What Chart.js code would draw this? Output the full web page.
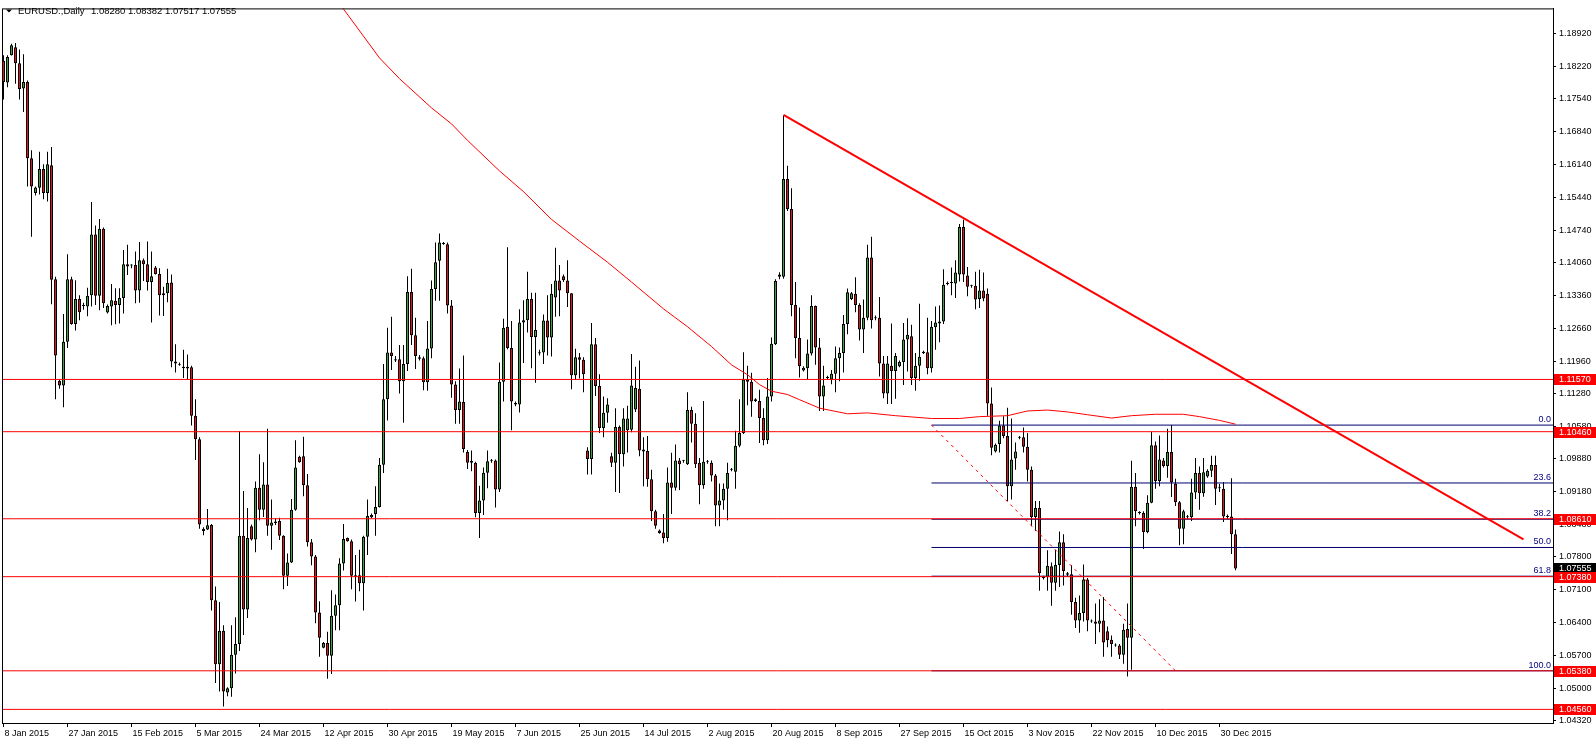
<!DOCTYPE html>
<html lang="es">
<head>
<meta charset="utf-8">
<title>EURUSD Daily</title>
<script src="https://cdn.jsdelivr.net/npm/chart.js@4.4.1/dist/chart.umd.min.js"></script>
<style>
  html, body { margin: 0; padding: 0; background: #fff; }
  #grafico { display: block; }
</style>
</head>
<body>
<canvas id="grafico" width="1596" height="744"></canvas>
<script>
// Velas diarias EURUSD (una barra por día de mercado, domingos incluidos)
const aperturas = [
  1.1834, 1.1788, 1.1846, 1.1863, 1.1829, 1.1775, 1.1789, 1.1627, 1.1553, 1.1564,
  1.1604, 1.1553, 1.1612, 1.1370, 1.1154, 1.1144, 1.1237, 1.1370, 1.1275, 1.1328,
  1.1313, 1.1312, 1.1336, 1.1465, 1.1335, 1.1477, 1.1299, 1.1312, 1.1324, 1.1315,
  1.1330, 1.1402, 1.1400, 1.1400, 1.1346, 1.1410, 1.1402, 1.1364, 1.1395, 1.1381,
  1.1340, 1.1340, 1.1363, 1.1195, 1.1188, 1.1184, 1.1184, 1.1183, 1.1080, 1.1030,
  1.0840, 1.0838, 1.0848, 1.0688, 1.0552, 1.0623, 1.0492, 1.0501, 1.0572, 1.0595,
  1.0825, 1.0668, 1.0845, 1.0817, 1.0927, 1.0880, 1.0934, 1.0846, 1.0852, 1.0856,
  1.0825, 1.0740, 1.0768, 1.0880, 1.0993, 1.0994, 1.0932, 1.0811, 1.0781, 1.0662,
  1.0587, 1.0597, 1.0570, 1.0655, 1.0677, 1.0766, 1.0820, 1.0813, 1.0741, 1.0741,
  1.0724, 1.0823, 1.0869, 1.0871, 1.0886, 1.0976, 1.1115, 1.1214, 1.1197, 1.1200,
  1.1153, 1.1190, 1.1343, 1.1251, 1.1201, 1.1202, 1.1151, 1.1223, 1.1349, 1.1409,
  1.1446, 1.1444, 1.1314, 1.1146, 1.1092, 1.1109, 1.1003, 1.0984, 1.0980, 1.0873,
  1.0900, 1.0959, 1.0984, 1.0985, 1.0923, 1.1152, 1.1269, 1.1224, 1.1107, 1.1104,
  1.1278, 1.1283, 1.1328, 1.1247, 1.1212, 1.1214, 1.1282, 1.1246, 1.1331, 1.1367,
  1.1376, 1.1367, 1.1340, 1.1166, 1.1204, 1.1199, 1.1006, 1.0988, 1.1232, 1.1143,
  1.1054, 1.1086, 1.0994, 1.0980, 1.1056, 1.0998, 1.1049, 1.1050, 1.1093, 1.1137,
  1.1008, 1.1005, 1.0945, 1.0877, 1.0836, 1.0832, 1.0820, 1.0938, 1.0927, 1.0985,
  1.0984, 1.0977, 1.1092, 1.1063, 1.0980, 1.0932, 1.0981, 1.0980, 1.0953, 1.0889,
  1.0900, 1.0925, 1.0965, 1.0961, 1.1016, 1.1043, 1.1157, 1.1152, 1.1115, 1.1111,
  1.1075, 1.1028, 1.1121, 1.1232, 1.1380, 1.1375, 1.1583, 1.1519, 1.1315, 1.1245,
  1.1176, 1.1181, 1.1212, 1.1313, 1.1225, 1.1121, 1.1160, 1.1157, 1.1169, 1.1202,
  1.1213, 1.1275, 1.1328, 1.1339, 1.1315, 1.1263, 1.1288, 1.1416, 1.1289, 1.1288,
  1.1191, 1.1127, 1.1186, 1.1175, 1.1185, 1.1194, 1.1242, 1.1249, 1.1160, 1.1186,
  1.1213, 1.1215, 1.1181, 1.1268, 1.1276, 1.1280, 1.1360, 1.1362, 1.1361, 1.1380,
  1.1481, 1.1378, 1.1355, 1.1356, 1.1328, 1.1346, 1.1339, 1.1106, 1.1004, 1.1020,
  1.1059, 1.1037, 1.0930, 1.0989, 1.1033, 1.1034, 1.1014, 1.0965, 1.0865, 1.0884,
  1.0735, 1.0737, 1.0760, 1.0725, 1.0763, 1.0811, 1.0745, 1.0743, 1.0684, 1.0645,
  1.0661, 1.0732, 1.0644, 1.0643, 1.0638, 1.0645, 1.0622, 1.0604, 1.0592, 1.0592,
  1.0572, 1.0627, 1.0608, 1.0929, 1.0874, 1.0873, 1.0833, 1.0895, 1.1017, 1.0941,
  1.0985, 1.0973, 1.1003, 1.0936, 1.0896, 1.0840, 1.0866, 1.0864, 1.0917, 1.0958,
  1.0915, 1.0951, 1.0963, 1.0975, 1.0926, 1.0925, 1.0866, 1.0866, 1.0828
];
const maximos = [
  1.1846, 1.1846, 1.1870, 1.1872, 1.1858, 1.1848, 1.1792, 1.1644, 1.1567, 1.1641,
  1.1614, 1.1641, 1.1651, 1.1375, 1.1156, 1.1296, 1.1423, 1.1375, 1.1368, 1.1336,
  1.1320, 1.1352, 1.1534, 1.1484, 1.1498, 1.1480, 1.1316, 1.1360, 1.1351, 1.1351,
  1.1432, 1.1443, 1.1402, 1.1429, 1.1449, 1.1414, 1.1450, 1.1429, 1.1398, 1.1393,
  1.1354, 1.1392, 1.1380, 1.1232, 1.1193, 1.1220, 1.1210, 1.1186, 1.1115, 1.1034,
  1.0843, 1.0882, 1.0850, 1.0717, 1.0684, 1.0635, 1.0503, 1.0635, 1.0652, 1.1047,
  1.0920, 1.0884, 1.0849, 1.0940, 1.0998, 1.0981, 1.1052, 1.0902, 1.0862, 1.0863,
  1.0826, 1.0787, 1.0903, 1.1028, 1.0995, 1.1035, 1.0956, 1.0818, 1.0784, 1.0686,
  1.0599, 1.0621, 1.0709, 1.0700, 1.0777, 1.0850, 1.0821, 1.0817, 1.0784, 1.0795,
  1.0825, 1.0902, 1.0872, 1.0930, 1.0990, 1.1190, 1.1267, 1.1290, 1.1207, 1.1230,
  1.1230, 1.1376, 1.1392, 1.1288, 1.1209, 1.1206, 1.1281, 1.1367, 1.1448, 1.1467,
  1.1449, 1.1448, 1.1326, 1.1153, 1.1180, 1.1208, 1.1007, 1.1006, 1.0982, 1.0931,
  1.0970, 1.1006, 1.0988, 1.0987, 1.1193, 1.1286, 1.1438, 1.1281, 1.1110, 1.1306,
  1.1325, 1.1386, 1.1341, 1.1341, 1.1220, 1.1295, 1.1336, 1.1360, 1.1437, 1.1400,
  1.1380, 1.1410, 1.1340, 1.1222, 1.1213, 1.1204, 1.1013, 1.1277, 1.1245, 1.1168,
  1.1121, 1.1117, 1.1001, 1.1096, 1.1059, 1.1096, 1.1101, 1.1211, 1.1184, 1.1197,
  1.1034, 1.1037, 1.0965, 1.0880, 1.0838, 1.0871, 1.0970, 1.1001, 1.1019, 1.0990,
  1.0986, 1.1130, 1.1099, 1.1085, 1.0990, 1.1111, 1.0986, 1.0985, 1.0956, 1.0936,
  1.0936, 1.0980, 1.0969, 1.1048, 1.1115, 1.1215, 1.1186, 1.1171, 1.1117, 1.1135,
  1.1096, 1.1160, 1.1246, 1.1370, 1.1385, 1.1718, 1.1611, 1.1563, 1.1364, 1.1310,
  1.1185, 1.1242, 1.1336, 1.1314, 1.1245, 1.1186, 1.1165, 1.1177, 1.1227, 1.1225,
  1.1294, 1.1350, 1.1343, 1.1374, 1.1319, 1.1327, 1.1443, 1.1460, 1.1293, 1.1332,
  1.1207, 1.1207, 1.1276, 1.1213, 1.1197, 1.1277, 1.1287, 1.1273, 1.1213, 1.1318,
  1.1218, 1.1288, 1.1281, 1.1312, 1.1314, 1.1391, 1.1365, 1.1395, 1.1410, 1.1487,
  1.1497, 1.1396, 1.1358, 1.1386, 1.1390, 1.1384, 1.1350, 1.1140, 1.1021, 1.1069,
  1.1079, 1.1097, 1.1074, 1.1023, 1.1037, 1.1055, 1.1043, 1.0972, 1.0899, 1.0899,
  1.0740, 1.0794, 1.0768, 1.0795, 1.0834, 1.0828, 1.0748, 1.0762, 1.0693, 1.0698,
  1.0764, 1.0735, 1.0647, 1.0681, 1.0690, 1.0695, 1.0632, 1.0613, 1.0596, 1.0595,
  1.0638, 1.0681, 1.0984, 1.0958, 1.0877, 1.0877, 1.0911, 1.1046, 1.1025, 1.1038,
  1.0990, 1.1052, 1.1060, 1.0946, 1.0899, 1.0880, 1.0869, 1.0946, 1.0990, 1.0972,
  1.0990, 1.0966, 1.0995, 1.0995, 1.0935, 1.0939, 1.0870, 1.0947, 1.0838
];
const minimos = [
  1.1752, 1.1778, 1.1845, 1.1785, 1.1752, 1.1725, 1.1567, 1.1460, 1.1548, 1.1550,
  1.1540, 1.1535, 1.1317, 1.1115, 1.1137, 1.1098, 1.1224, 1.1273, 1.1261, 1.1283,
  1.1305, 1.1291, 1.1312, 1.1315, 1.1304, 1.1309, 1.1297, 1.1272, 1.1274, 1.1276,
  1.1297, 1.1379, 1.1393, 1.1319, 1.1320, 1.1366, 1.1346, 1.1278, 1.1380, 1.1293,
  1.1292, 1.1321, 1.1183, 1.1172, 1.1186, 1.1160, 1.1158, 1.1059, 1.0986, 1.0840,
  1.0826, 1.0837, 1.0666, 1.0512, 1.0494, 1.0462, 1.0484, 1.0483, 1.0532, 1.0580,
  1.0614, 1.0650, 1.0815, 1.0790, 1.0858, 1.0865, 1.0825, 1.0795, 1.0848, 1.0816,
  1.0711, 1.0718, 1.0767, 1.0878, 1.0980, 1.0909, 1.0802, 1.0762, 1.0639, 1.0568,
  1.0586, 1.0521, 1.0531, 1.0624, 1.0624, 1.0751, 1.0812, 1.0711, 1.0685, 1.0707,
  1.0666, 1.0784, 1.0862, 1.0825, 1.0885, 1.0958, 1.1070, 1.1177, 1.1194, 1.1127,
  1.1065, 1.1175, 1.1230, 1.1179, 1.1197, 1.1134, 1.1133, 1.1202, 1.1324, 1.1324,
  1.1443, 1.1297, 1.1118, 1.1063, 1.1063, 1.1002, 1.0967, 1.0962, 1.0864, 1.0820,
  1.0869, 1.0926, 1.0980, 1.0885, 1.0918, 1.1110, 1.1221, 1.1049, 1.1100, 1.1087,
  1.1192, 1.1257, 1.1181, 1.1150, 1.1208, 1.1190, 1.1208, 1.1206, 1.1290, 1.1291,
  1.1364, 1.1311, 1.1136, 1.1156, 1.1159, 1.1130, 1.0955, 1.0955, 1.1122, 1.1043,
  1.1034, 1.1065, 1.0971, 1.0918, 1.0916, 1.0972, 1.1002, 1.1045, 1.1088, 1.0994,
  1.0930, 1.0929, 1.0856, 1.0840, 1.0829, 1.0809, 1.0812, 1.0871, 1.0921, 1.0922,
  1.0980, 1.0975, 1.1023, 1.0969, 1.0892, 1.0925, 1.0978, 1.0940, 1.0845, 1.0845,
  1.0880, 1.0858, 1.0962, 1.0925, 1.1013, 1.1041, 1.1102, 1.1078, 1.1109, 1.1022,
  1.1017, 1.1020, 1.1110, 1.1230, 1.1370, 1.1371, 1.1515, 1.1291, 1.1202, 1.1161,
  1.1174, 1.1157, 1.1208, 1.1188, 1.1090, 1.1090, 1.1157, 1.1147, 1.1130, 1.1153,
  1.1172, 1.1253, 1.1326, 1.1300, 1.1240, 1.1213, 1.1283, 1.1265, 1.1283, 1.1163,
  1.1117, 1.1105, 1.1105, 1.1116, 1.1183, 1.1145, 1.1174, 1.1145, 1.1133, 1.1154,
  1.1211, 1.1168, 1.1172, 1.1220, 1.1236, 1.1275, 1.1357, 1.1336, 1.1330, 1.1365,
  1.1364, 1.1334, 1.1352, 1.1306, 1.1309, 1.1323, 1.1080, 1.0996, 1.1002, 1.1002,
  1.1032, 1.0899, 1.0902, 1.0965, 1.1030, 1.1002, 1.0940, 1.0845, 1.0835, 1.0708,
  1.0732, 1.0708, 1.0676, 1.0708, 1.0716, 1.0719, 1.0738, 1.0657, 1.0629, 1.0619,
  1.0643, 1.0622, 1.0640, 1.0595, 1.0620, 1.0568, 1.0588, 1.0568, 1.0589, 1.0563,
  1.0553, 1.0526, 1.0540, 1.0845, 1.0870, 1.0797, 1.0830, 1.0894, 1.0925, 1.0930,
  1.0970, 1.0948, 1.0907, 1.0888, 1.0805, 1.0807, 1.0860, 1.0856, 1.0903, 1.0880,
  1.0908, 1.0948, 1.0950, 1.0890, 1.0918, 1.0854, 1.0860, 1.0786, 1.07517
];
const cierres = [
  1.1789, 1.1842, 1.1867, 1.1829, 1.1774, 1.1789, 1.1627, 1.1567, 1.1565, 1.1604,
  1.1553, 1.1614, 1.1369, 1.1208, 1.1144, 1.1237, 1.1370, 1.1275, 1.1328, 1.1300,
  1.1315, 1.1335, 1.1465, 1.1335, 1.1477, 1.1319, 1.1313, 1.1325, 1.1315, 1.1330,
  1.1402, 1.1397, 1.1399, 1.1346, 1.1410, 1.1402, 1.1364, 1.1376, 1.1381, 1.1336,
  1.1336, 1.1362, 1.1195, 1.1191, 1.1190, 1.1181, 1.1180, 1.1080, 1.1030, 1.0849,
  1.0835, 1.0847, 1.0688, 1.0552, 1.0623, 1.0494, 1.0501, 1.0572, 1.0595, 1.0825,
  1.0668, 1.0820, 1.0817, 1.0927, 1.0880, 1.0934, 1.0846, 1.0853, 1.0855, 1.0825,
  1.0740, 1.0768, 1.0880, 1.0970, 1.0981, 1.0932, 1.0811, 1.0781, 1.0662, 1.0608,
  1.0597, 1.0570, 1.0655, 1.0677, 1.0766, 1.0818, 1.0813, 1.0740, 1.0738, 1.0724,
  1.0823, 1.0867, 1.0864, 1.0886, 1.0976, 1.1115, 1.1214, 1.1207, 1.1200, 1.1153,
  1.1190, 1.1343, 1.1251, 1.1207, 1.1204, 1.1151, 1.1223, 1.1349, 1.1406, 1.1448,
  1.1445, 1.1314, 1.1146, 1.1092, 1.1110, 1.1009, 1.0980, 1.0980, 1.0873, 1.0900,
  1.0959, 1.0983, 1.0985, 1.0923, 1.1152, 1.1267, 1.1224, 1.1110, 1.1104, 1.1278,
  1.1283, 1.1328, 1.1247, 1.1262, 1.1215, 1.1282, 1.1246, 1.1339, 1.1367, 1.1346,
  1.1368, 1.1340, 1.1166, 1.1204, 1.1199, 1.1168, 1.0988, 1.1232, 1.1143, 1.1054,
  1.1086, 1.1104, 1.0980, 1.1056, 1.0998, 1.1074, 1.1074, 1.1144, 1.1139, 1.1006,
  1.1004, 1.0945, 1.0877, 1.0846, 1.0831, 1.0820, 1.0938, 1.0927, 1.0985, 1.0977,
  1.0984, 1.1092, 1.1063, 1.0977, 1.0932, 1.0982, 1.0983, 1.0953, 1.0889, 1.0900,
  1.0925, 1.0958, 1.0966, 1.1016, 1.1043, 1.1157, 1.1152, 1.1110, 1.1111, 1.1075,
  1.1028, 1.1121, 1.1233, 1.1366, 1.1375, 1.1583, 1.1519, 1.1315, 1.1245, 1.1185,
  1.1182, 1.1212, 1.1313, 1.1225, 1.1121, 1.1144, 1.1161, 1.1169, 1.1202, 1.1213,
  1.1275, 1.1342, 1.1340, 1.1315, 1.1263, 1.1288, 1.1416, 1.1283, 1.1287, 1.1191,
  1.1127, 1.1191, 1.1175, 1.1207, 1.1194, 1.1242, 1.1252, 1.1160, 1.1186, 1.1205,
  1.1216, 1.1181, 1.1269, 1.1278, 1.1280, 1.1358, 1.1362, 1.1364, 1.1384, 1.1481,
  1.1380, 1.1354, 1.1356, 1.1327, 1.1346, 1.1329, 1.1106, 1.1012, 1.1018, 1.1059,
  1.1037, 1.0930, 1.0987, 1.1004, 1.1035, 1.1014, 1.0965, 1.0865, 1.0884, 1.0745,
  1.0737, 1.0761, 1.0725, 1.0763, 1.0811, 1.0750, 1.0742, 1.0684, 1.0645, 1.0661,
  1.0732, 1.0645, 1.0643, 1.0638, 1.0645, 1.0598, 1.0603, 1.0595, 1.0593, 1.0572,
  1.0625, 1.0608, 1.0929, 1.0877, 1.0873, 1.0833, 1.0895, 1.1017, 1.0941, 1.0987,
  1.0973, 1.1003, 1.0938, 1.0896, 1.0840, 1.0877, 1.0864, 1.0917, 1.0958, 1.0915,
  1.0960, 1.0963, 1.0975, 1.0925, 1.0926, 1.0866, 1.0865, 1.0828, 1.07555
];

// Eje de fechas: una etiqueta cada 16 barras
const indicesFechas = [0, 16, 32, 48, 64, 80, 96, 112, 128, 144, 160, 176, 192, 208, 224, 240, 256, 272, 288, 304];
const etiquetasFechas = ['8 Jan 2015', '27 Jan 2015', '15 Feb 2015', '5 Mar 2015', '24 Mar 2015', '12 Apr 2015',
  '30 Apr 2015', '19 May 2015', '7 Jun 2015', '25 Jun 2015', '14 Jul 2015', '2 Aug 2015', '20 Aug 2015',
  '8 Sep 2015', '27 Sep 2015', '15 Oct 2015', '3 Nov 2015', '22 Nov 2015', '10 Dec 2015', '30 Dec 2015'];

// Eje de precios
const ticksPrecio = [1.18920, 1.18220, 1.17540, 1.16840, 1.16140, 1.15440, 1.14740, 1.14060, 1.13360, 1.12660,
  1.11960, 1.11280, 1.10580, 1.09880, 1.09180, 1.08480, 1.07800, 1.07100, 1.06400, 1.05700, 1.05000, 1.04320];

// Niveles horizontales rojos
const nivelesRojos = [1.11570, 1.10460, 1.08610, 1.07380, 1.05380, 1.04560];

// Retroceso de Fibonacci
const fibEtiquetas = ['0.0', '23.6', '38.2', '50.0', '61.8', '100.0'];
const fibPrecios = [1.1060, 1.0937, 1.0860, 1.0800, 1.0739, 1.0538];
const fibInicio = 232;
const fibDiagonalX = [232, 293];
const fibDiagonalY = [1.1060, 1.0538];

// Línea de tendencia bajista
const tendenciaX = [195, 380];
const tendenciaY = [1.1719, 1.0817];

// Media móvil
const mediaX = [82, 85, 94, 99, 107, 112, 116, 124, 130, 137, 144, 151, 157, 165, 171, 177, 182, 186, 189, 192,
  196, 199, 204, 211, 216, 223, 232, 239, 244, 251, 256, 261, 266, 271, 277, 282, 288, 295, 299, 304, 308];
const mediaY = [1.1977, 1.1944, 1.1840, 1.1796, 1.1734, 1.1700, 1.1665, 1.1600, 1.1556, 1.1497, 1.1451, 1.1406,
  1.1364, 1.1307, 1.1269, 1.1227, 1.1188, 1.1167, 1.1146, 1.1132, 1.1125, 1.1114, 1.1096, 1.1084, 1.1086, 1.1080,
  1.1074, 1.1074, 1.1078, 1.1080, 1.1090, 1.1092, 1.1088, 1.1082, 1.1075, 1.1080, 1.1083, 1.1083, 1.1078, 1.1070, 1.1062];

const precioActual = 1.07555;
const cabeceraSimbolo = 'EURUSD.,Daily';
const cabeceraValores = '1.08280 1.08382 1.07517 1.07555';

const FUENTE = '"Liberation Sans", Arial, sans-serif';
const VERDE = '#3aa53a';
const ROJO = '#e3141b';

const cuerpos = aperturas.map((o, i) => ({ x: i, y: [o, cierres[i]] }));
const mechas = minimos.map((l, i) => ({ x: i, y: [l, maximos[i]] }));
const coloresCuerpo = aperturas.map((o, i) => cierres[i] >= o ? VERDE : ROJO);

function linea(puntos, color, ancho, orden, guiones) {
    return {
        type: 'line',
        data: puntos,
        borderColor: color,
        borderWidth: ancho,
        borderDash: guiones || [],
        pointRadius: 0,
        fill: false,
        tension: 0,
        order: orden
    };
}

const datasets = [
    {
        label: 'cuerpos', data: cuerpos, grouped: false, order: 0,
        backgroundColor: coloresCuerpo, borderColor: '#000', borderWidth: 1,
        borderSkipped: false, barThickness: 3, minBarLength: 1, inflateAmount: 0
    },
    {
        label: 'mechas', data: mechas, grouped: false, order: 1,
        backgroundColor: '#000', borderWidth: 0, barThickness: 1, minBarLength: 1, inflateAmount: 0
    }
];
// las rojas quedan por encima de las de Fibonacci
fibPrecios.forEach(v => datasets.push(linea([{ x: fibInicio, y: v }, { x: 400, y: v }], '#00006e', 1, -1)));
nivelesRojos.forEach(v => datasets.push(linea([{ x: -2, y: v }, { x: 400, y: v }], '#ff0000', 1, -2)));
datasets.push(linea(fibDiagonalX.map((x, k) => ({ x, y: fibDiagonalY[k] })), '#ff0000', 1, -2, [3, 4]));
datasets.push(linea(mediaX.map((x, k) => ({ x, y: mediaY[k] })), '#ff0000', 1, -2));
datasets.push(linea(tendenciaX.map((x, k) => ({ x, y: tendenciaY[k] })), '#ff0000', 2, -3));

// Marco, cabecera, textos de Fibonacci y cajas de precio
const extras = {
    id: 'extras',
    afterDraw(chart) {
        const { ctx, chartArea: a } = chart;
        const y = chart.scales.y;
        ctx.save();
        ctx.strokeStyle = '#000';
        ctx.lineWidth = 1;
        ctx.strokeRect(a.left + 0.5, a.top + 0.5, a.right - a.left, a.bottom - a.top);

        ctx.fillStyle = '#000';
        ctx.beginPath();
        ctx.moveTo(6, 9.5); ctx.lineTo(12, 9.5); ctx.lineTo(9, 12.5); ctx.closePath();
        ctx.fill();
        ctx.font = '9.5px ' + FUENTE;
        ctx.textAlign = 'left';
        ctx.textBaseline = 'alphabetic';
        ctx.fillText(cabeceraSimbolo, 18, 14);
        ctx.fillText(cabeceraValores, 91, 14);

        ctx.font = '9px ' + FUENTE;
        ctx.fillStyle = '#000080';
        ctx.textAlign = 'right';
        ctx.textBaseline = 'bottom';
        fibPrecios.forEach((p, k) => {
            ctx.fillText(fibEtiquetas[k], a.right - 2, Math.round(y.getPixelForValue(p)) - 1);
        });

        const caja = (v, color) => {
            const py = Math.round(y.getPixelForValue(v));
            ctx.fillStyle = color;
            ctx.fillRect(a.right + 1, py - 5, chart.width - a.right - 1, 11);
            ctx.fillStyle = '#fff';
            ctx.textAlign = 'left';
            ctx.textBaseline = 'middle';
            ctx.fillText(v.toFixed(5), a.right + 6, py + 0.5);
        };
        caja(precioActual, '#000');
        nivelesRojos.forEach(v => caja(v, '#ff0000'));
        ctx.restore();
    }
};

new Chart(document.getElementById('grafico'), {
    type: 'bar',
    data: { datasets },
    options: {
        responsive: false,
        animation: false,
        devicePixelRatio: 1,
        layout: { padding: { left: 2, top: 2, right: 0, bottom: 0 } },
        plugins: { legend: { display: false }, tooltip: { enabled: false } },
        scales: {
            x: {
                type: 'linear', position: 'bottom', min: -0.375, max: 387.375, offset: false,
                grid: { drawOnChartArea: false, drawTicks: true, tickLength: 4, color: '#000', offset: false },
                border: { display: true, color: '#000' },
                ticks: {
                    autoSkip: false, maxRotation: 0, align: 'start', labelOffset: 1, padding: 1, color: '#000',
                    font: { family: FUENTE, size: 9 },
                    callback: v => etiquetasFechas[indicesFechas.indexOf(v)] ?? ''
                },
                afterBuildTicks: s => { s.ticks = indicesFechas.map(v => ({ value: v })); },
                afterFit: s => { s.height = 21; }
            },
            y: {
                type: 'linear', position: 'right', min: 1.04271, max: 1.19453,
                grid: { drawOnChartArea: false, drawTicks: true, tickLength: 3, color: '#000' },
                border: { display: true, color: '#000' },
                ticks: {
                    autoSkip: false, padding: 3, color: '#000',
                    font: { family: FUENTE, size: 9 },
                    callback: v => Number(v).toFixed(5)
                },
                afterBuildTicks: s => { s.ticks = ticksPrecio.map(v => ({ value: v })); },
                afterFit: s => { s.width = 43; }
            }
        }
    },
    plugins: [extras]
});
</script>
</body>
</html>
